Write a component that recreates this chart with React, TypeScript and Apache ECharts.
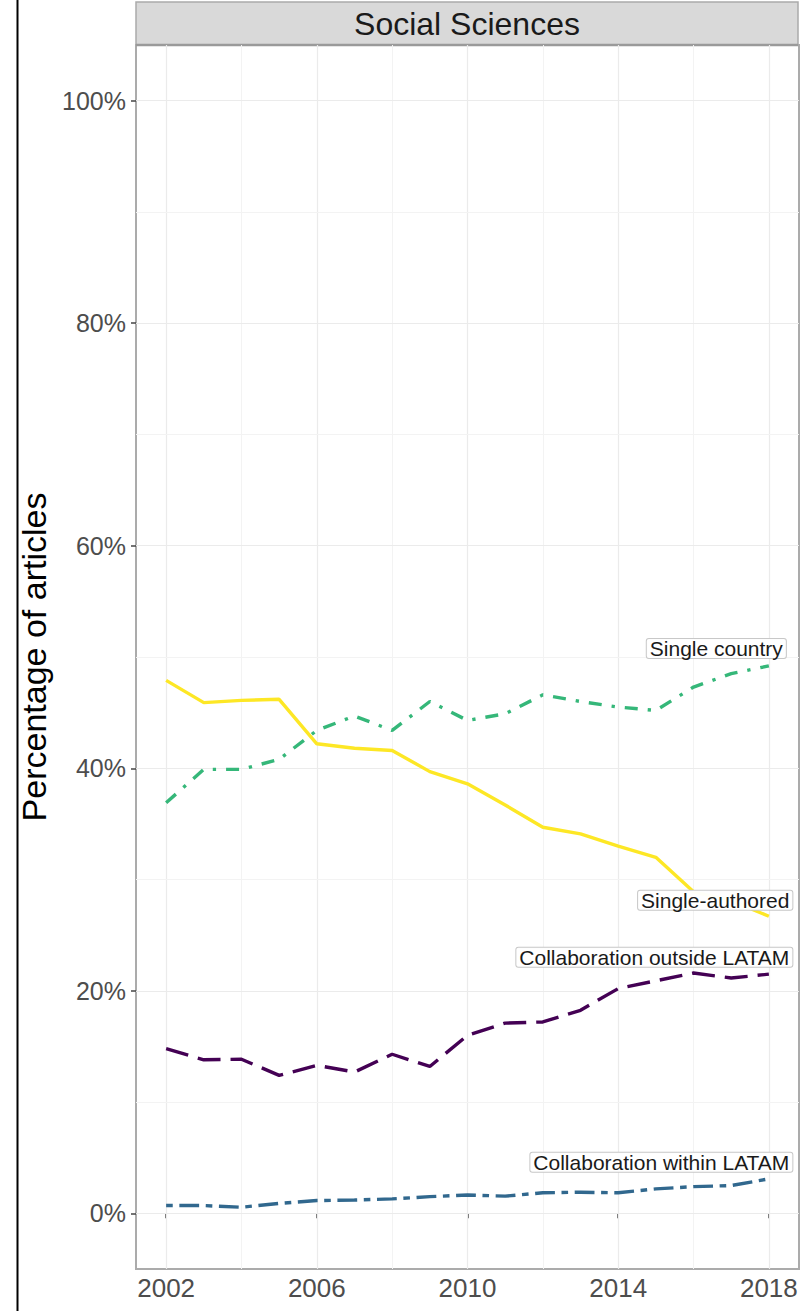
import React, { useEffect, useRef } from "react";
import * as echarts from "echarts";

const years = [2002, 2003, 2004, 2005, 2006, 2007, 2008, 2009, 2010, 2011, 2012, 2013, 2014, 2015, 2016, 2017, 2018];
const singleAuthored = [47.9, 45.9, 46.1, 46.2, 42.2, 41.8, 41.6, 39.7, 38.6, 36.7, 34.7, 34.1, 33.0, 32.0, 28.9, 28.1, 26.7];
const singleCountry = [36.9, 39.9, 39.9, 40.8, 43.4, 44.7, 43.4, 46.0, 44.3, 44.9, 46.6, 46.0, 45.5, 45.2, 47.3, 48.5, 49.2];
const collabOutside = [14.8, 13.8, 13.85, 12.4, 13.3, 12.7, 14.3, 13.2, 16.0, 17.1, 17.2, 18.25, 20.2, 20.9, 21.6, 21.15, 21.5];
const collabWithin = [0.7, 0.7, 0.55, 0.9, 1.15, 1.2, 1.3, 1.5, 1.65, 1.55, 1.85, 1.9, 1.85, 2.2, 2.4, 2.5, 3.1];

const seriesNames = ["Single-authored", "Single country", "Collaboration outside LATAM", "Collaboration within LATAM"];
const xTicks = [2002, 2006, 2010, 2014, 2018];
const xMinorGrid = [2004, 2008, 2012, 2016];
const yTicks = [0, 20, 40, 60, 80, 100];
const yMinorGrid = [10, 30, 50, 70, 90];
const facetTitle = "Social Sciences";
const yTitle = "Percentage of articles";

const FONT = "'Liberation Sans', Arial, Helvetica, sans-serif";

export default function App() {
  const ref = useRef<HTMLDivElement>(null);

  useEffect(() => {
    if (!ref.current) return;
    const chart = echarts.init(ref.current, null, { renderer: "svg" });

    const pair = (vals: number[]) => years.map((y, i) => [y, vals[i]]);
    const labelBase = {
      show: true,
      align: "right",
      verticalAlign: "middle",
      distance: 0,
      fontSize: 21,
      fontFamily: FONT,
      color: "#1A1A1A",
      backgroundColor: "rgba(255,255,255,0.97)",
      borderColor: "#C8C8C8",
      borderWidth: 1,
      borderRadius: 2,
      padding: [0, 3],
      lineHeight: 19,
    };

    const lineSeries = (
      name: string,
      vals: number[],
      color: string,
      dash: any,
      offset: number[],
      z: number
    ) => ({
      name,
      type: "line",
      data: pair(vals),
      showSymbol: false,
      symbol: "none",
      z,
      lineStyle: { color, width: 3.4, type: dash, cap: "butt" },
      emphasis: { disabled: true },
      endLabel: { ...labelBase, formatter: name, offset },
    });

    const gridData: any[] = [];
    xTicks.forEach((v) => gridData.push({ xAxis: v, lineStyle: { color: "#EBEBEB", width: 1.2, type: "solid" } }));
    xMinorGrid.forEach((v) => gridData.push({ xAxis: v, lineStyle: { color: "#F3F3F3", width: 1, type: "solid" } }));
    yTicks.forEach((v) => gridData.push({ yAxis: v, lineStyle: { color: "#EBEBEB", width: 1.2, type: "solid" } }));
    yMinorGrid.forEach((v) => gridData.push({ yAxis: v, lineStyle: { color: "#F3F3F3", width: 1, type: "solid" } }));

    chart.setOption({
      animation: false,
      backgroundColor: "#FFFFFF",
      grid: {
        left: 136,
        right: 6,
        top: 45,
        bottom: 42,
        show: true,
        backgroundColor: "#FFFFFF",
        borderColor: "#ABABAB",
        borderWidth: 2,
        containLabel: false,
      },
      xAxis: {
        type: "value",
        min: 2001.2,
        max: 2018.8,
        axisLine: { show: false },
        splitLine: { show: false },
        axisTick: { show: true, length: 5, customValues: xTicks, lineStyle: { color: "#444", width: 1.5 } },
        axisLabel: {
          customValues: xTicks,
          formatter: (v: number) => String(v),
          fontSize: 26,
          fontFamily: FONT,
          color: "#4D4D4D",
          margin: 6,
        },
      },
      yAxis: {
        type: "value",
        min: -5,
        max: 105,
        axisLine: { show: false },
        splitLine: { show: false },
        axisTick: { show: true, length: 5, customValues: yTicks, lineStyle: { color: "#444", width: 1.5 } },
        axisLabel: {
          customValues: yTicks,
          formatter: (v: number) => v + "%",
          fontSize: 25,
          fontFamily: FONT,
          color: "#4D4D4D",
          margin: 10,
        },
        name: yTitle,
        nameLocation: "middle",
        nameGap: 79,
        nameTextStyle: { fontSize: 34, fontFamily: FONT, color: "#000000" },
      },
      graphic: [
        {
          type: "line",
          shape: { x1: 17.5, y1: 0, x2: 17.5, y2: 1311 },
          style: { stroke: "#000000", lineWidth: 2 },
        },
        {
          type: "rect",
          shape: { x: 136, y: 2, width: 662, height: 43 },
          style: { fill: "#D9D9D9", stroke: "#ABABAB", lineWidth: 1.5 },
        },
        {
          type: "line",
          shape: { x1: 136, y1: 45, x2: 798, y2: 45 },
          style: { stroke: "#9A9A9A", lineWidth: 2.5 },
        },
        {
          type: "text",
          x: 467,
          y: 24,
          style: {
            text: facetTitle,
            fontSize: 32,
            fontFamily: FONT,
            fill: "#1A1A1A",
            align: "center",
            verticalAlign: "middle",
          },
        },
      ],
      series: [
        {
          name: "grid",
          type: "line",
          data: [],
          z: 1,
          silent: true,
          markLine: {
            z: 1,
            silent: true,
            symbol: ["none", "none"],
            label: { show: false },
            emphasis: { disabled: true },
            animation: false,
            data: gridData,
          },
        },
        lineSeries(seriesNames[0], singleAuthored, "#FDE725", "solid", [23.5, -16], 6),
        lineSeries(seriesNames[1], singleCountry, "#35B779", [13, 10, 3.3, 10], [17, -17.5], 5),
        lineSeries(seriesNames[2], collabOutside, "#440154", [23, 10], [23.5, -17], 4),
        lineSeries(seriesNames[3], collabWithin, "#31688E", [6.6, 6.6, 19.8, 6.6], [23.5, -16.5], 3),
      ],
    });

    return () => chart.dispose();
  }, []);

  return (
    <div
      ref={ref}
      style={{ position: "absolute", left: 0, top: 0, width: 805, height: 1311, background: "#fff" }}
    />
  );
}
